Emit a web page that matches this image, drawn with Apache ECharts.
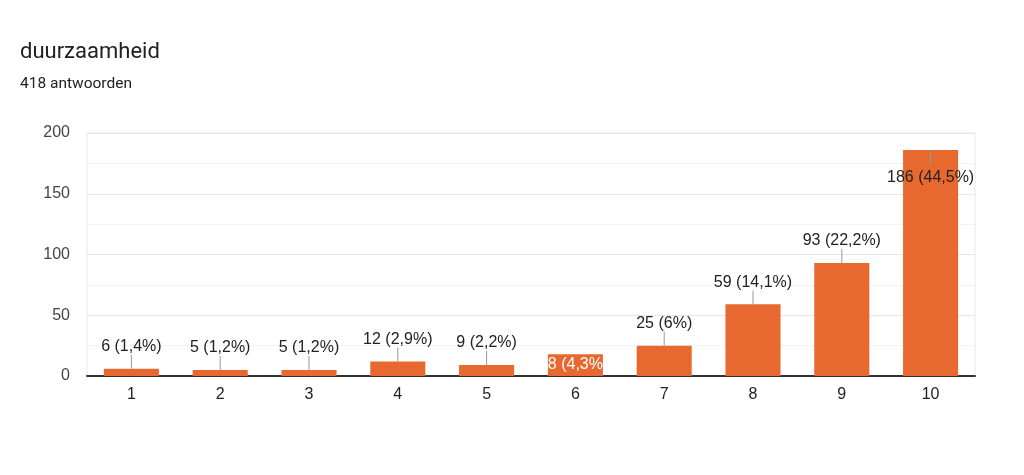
<!DOCTYPE html>
<html><head><meta charset="utf-8">
<script src="https://cdn.jsdelivr.net/npm/echarts@6/dist/echarts.min.js"></script>
<style>html,body{margin:0;padding:0;background:#fff}#c{width:1024px;height:475px}</style>
</head><body><div id="c"></div>
<script>
const titleText = 'duurzaamheid';
const subtitleText = '418 antwoorden';
const categories = ['1','2','3','4','5','6','7','8','9','10'];
const counts = [6, 5, 5, 12, 9, 18, 25, 59, 93, 186];
const percents = ['1,4','1,2','1,2','2,9','2,2','4,3','6','14,1','22,2','44,5'];
const yTicks = [0, 50, 100, 150, 200];

const BAR = '#e8692f';
const labelFont = {fontFamily: "'Liberation Sans', Arial, sans-serif", fontSize: 16};
// label placement per category: 'above' (default), 'below' (inside, under top), 'inside' (clipped white)
const placement = {'6': 'inside', '10': 'below'};

const barData = counts.map((v, i) => {
  const cat = categories[i];
  const full = v + ' (' + percents[i] + '%)';
  const p = placement[cat] || 'above';
  let label;
  if (p === 'inside') {
    label = {show: true, position: 'insideTop', distance: 2, color: '#fff',
      formatter: () => full.slice(1, -1), ...labelFont};
  } else if (p === 'below') {
    label = {show: true, position: 'insideTop', distance: 20, color: '#222',
      formatter: () => full, ...labelFont};
  } else {
    label = {show: true, position: 'top', distance: 14, color: '#222',
      formatter: () => full, ...labelFont};
  }
  return {value: v, label};
});

const chart = echarts.init(document.getElementById('c'));
chart.setOption({
  animation: false,
  title: [
    {text: titleText, left: 20, top: 41, padding: 0, textStyle: {fontFamily: 'Roboto', fontSize: 22, fontWeight: 'normal', color: '#202124'}},
    {text: subtitleText, left: 20, top: 76, padding: 0, textStyle: {fontFamily: 'Roboto', fontSize: 15.5, fontWeight: 'normal', color: '#202124'}}
  ],
  grid: {left: 87, right: 49, top: 133, bottom: 99, show: true, borderColor: '#e8e8e8', borderWidth: 1},
  xAxis: {
    type: 'category', data: categories,
    axisLine: {lineStyle: {color: '#333', width: 2}},
    axisTick: {show: false},
    axisLabel: {color: '#222', margin: 11, ...labelFont}
  },
  yAxis: {
    type: 'value', min: yTicks[0], max: yTicks[yTicks.length - 1], interval: 50,
    axisLine: {show: false}, axisTick: {show: false},
    axisLabel: {color: '#444', margin: 17, ...labelFont},
    splitLine: {lineStyle: {color: '#e6e6e6'}},
    minorTick: {show: false, splitNumber: 2},
    minorSplitLine: {show: true, lineStyle: {color: '#f3f3f3'}}
  },
  series: [
    {type: 'bar', data: barData, barWidth: '62%', itemStyle: {color: BAR}, z: 2},
    {type: 'custom', z: 3, silent: true,
      data: counts.map((v, i) => [i, v]),
      renderItem: function (params, api) {
        const cat = categories[api.value(0)];
        const p = placement[cat] || 'above';
        if (p === 'inside') return null;
        const pt = api.coord([api.value(0), api.value(1)]);
        const dir = p === 'below' ? 1 : -1;
        return {type: 'line', shape: {x1: pt[0], y1: pt[1], x2: pt[0], y2: pt[1] + dir * 14},
          style: {stroke: '#999', lineWidth: 1}};
      }
    }
  ]
});
</script></body></html>
